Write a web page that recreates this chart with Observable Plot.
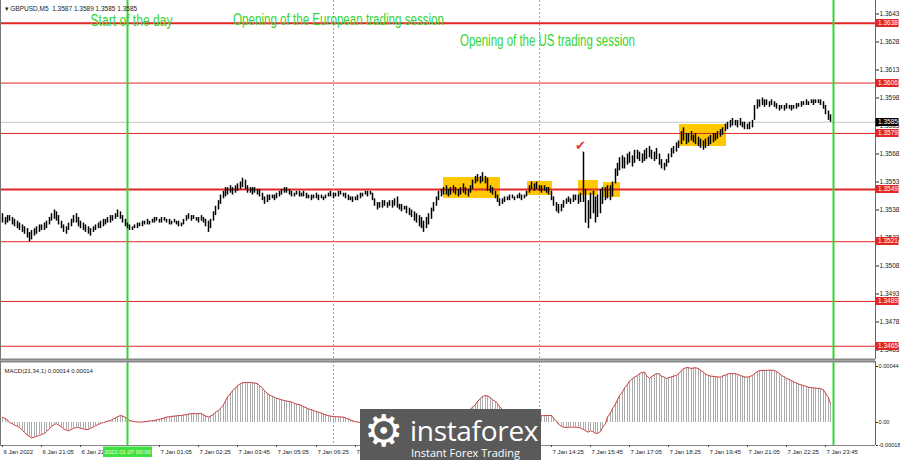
<!DOCTYPE html>
<html><head><meta charset="utf-8">
<script src="https://cdn.jsdelivr.net/npm/d3@7"></script>
<script src="https://cdn.jsdelivr.net/npm/@observablehq/plot@0.6"></script>
<style>
body{margin:0;background:#fff;}
#wrap{position:relative;width:900px;height:460px;overflow:hidden;font-family:"Liberation Sans",Arial,sans-serif;}
#wrap svg{display:block;}
.logo{position:absolute;left:360px;top:409px;width:181px;height:51px;background:#5a5a5a;color:#fff;overflow:hidden;}
.logo .gear{position:absolute;left:4px;top:-4px;font-size:44px;line-height:52px;font-family:"DejaVu Sans",sans-serif;}
.logo .brand{position:absolute;left:50px;top:2px;font-size:28px;font-family:"Open Sans",sans-serif;letter-spacing:-0.3px;}
.logo .tag{position:absolute;left:51px;top:36px;font-size:11px;font-family:"Open Sans",sans-serif;}
</style></head><body><div id="wrap"></div>
<script>
// ---- data (M5 bars, index 0 = 7 Jan 2022 00:00) ----
const firstBar = -51;
const priceBase = 1.35;           // bar values are pips above this
const pip = 0.0001;
const headerText = "\u25BE GBPUSD,M5  1.3587 1.3589 1.3585 1.3585";
const macdTitle = "MACD(21,34,1) 0.00014 0.00014";
// [low, high] in pips above priceBase
const bars = [
[31,36],[30,34],[31,35],[32,35],[30,34],[29,33],[28,32],[27,31],[26,30],[25,29],
[23,28],[21,26],[22,27],[24,28],[25,29],[26,30],[27,30],[27,31],[28,32],[30,34],
[32,36],[33,38],[32,37],[30,35],[28,32],[26,30],[25,29],[27,31],[29,33],[31,35],
[31,36],[29,34],[28,32],[27,31],[26,30],[25,29],[24,28],[26,29],[27,30],[28,31],
[28,32],[29,33],[30,33],[31,34],[31,35],[32,35],[33,36],[34,38],[33,37],[31,35],
[29,33],[28,31],[27,30],[27,29],[28,30],[28,31],[29,31],[29,32],[30,32],[30,33],
[30,32],[31,33],[31,34],[32,34],[31,33],[31,34],[32,34],[31,33],[30,33],[30,32],
[31,33],[30,32],[29,32],[29,31],[30,33],[32,35],[33,36],[32,35],[33,35],[32,34],
[31,34],[32,35],[31,34],[29,33],[26,32],[28,33],[32,37],[35,40],[38,43],[41,46],
[44,48],[45,50],[46,50],[47,51],[46,50],[47,51],[48,52],[49,53],[50,55],[49,54],
[47,51],[47,50],[46,50],[47,50],[46,49],[45,49],[43,47],[41,45],[42,46],[43,46],
[44,46],[43,46],[44,47],[45,48],[46,49],[47,50],[47,50],[46,49],[45,48],[45,47],
[46,48],[45,48],[45,47],[45,48],[44,47],[44,46],[43,46],[44,46],[44,47],[43,46],
[44,46],[43,45],[44,46],[45,47],[45,48],[44,47],[45,47],[45,48],[46,48],[45,47],
[44,47],[43,46],[43,45],[42,45],[43,45],[43,46],[44,47],[45,47],[46,48],[45,48],
[46,48],[43,47],[40,44],[38,42],[39,42],[39,43],[40,43],[39,42],[40,43],[39,43],
[40,44],[39,45],[38,41],[37,41],[38,40],[36,40],[35,39],[34,38],[32,37],[31,36],
[29,35],[28,34],[26,32],[28,34],[30,36],[33,39],[37,42],[40,45],[43,48],[45,49],
[46,50],[46,51],[45,49],[46,50],[47,51],[46,50],[45,49],[46,50],[47,52],[46,50],
[45,49],[47,51],[49,54],[52,56],[53,57],[52,56],[53,58],[52,56],[48,55],[47,51],
[46,50],[44,48],[42,46],[40,44],[41,44],[42,45],[43,45],[43,46],[44,46],[43,45],
[44,46],[44,47],[43,46],[44,46],[45,48],[47,51],[49,53],[48,52],[49,53],[48,51],
[47,51],[48,51],[47,50],[46,50],[43,48],[40,45],[37,42],[36,41],[37,41],[39,43],
[41,44],[42,45],[41,44],[42,46],[43,46],[41,46],[42,47],[42,69],[31,49],[28,43],
[33,47],[36,48],[31,45],[34,46],[36,49],[41,50],[43,50],[44,51],[43,51],[45,53],
[52,60],[56,63],[59,66],[60,67],[60,66],[62,68],[63,69],[61,67],[63,70],[65,70],
[64,69],[63,68],[64,70],[65,71],[66,72],[65,70],[64,69],[65,71],[62,68],[60,65],
[59,63],[61,65],[63,68],[66,71],[68,72],[69,74],[71,75],[73,80],[75,82],[73,79],
[74,79],[75,80],[74,78],[73,79],[72,77],[71,76],[70,75],[71,76],[72,77],[73,78],
[74,79],[75,79],[76,80],[77,81],[78,82],[80,84],[81,85],[82,86],[83,87],[83,86],
[82,86],[83,87],[82,85],[81,85],[81,84],[81,85],[82,86],[86,94],[92,97],[93,97],
[94,98],[93,97],[94,97],[93,96],[94,97],[93,96],[92,95],[91,94],[92,94],[91,94],
[92,95],[92,94],[91,94],[92,94],[92,95],[93,95],[93,96],[94,96],[94,97],[94,96],
[95,97],[94,97],[95,97],[95,97],[94,97],[92,96],[89,94],[86,91],[85,89]
];
// MACD(21,34,1) main = signal, in units of 0.00001
const macd = [
4,3,2,0,-1,-2,-3,-4,-6,-8,
-10,-11,-12,-11.5,-11,-10,-9.5,-8.6,-7,-5,
-3,-1.5,-1,-2,-3.5,-5,-6,-6.5,-5.5,-4.5,
-4,-4,-4.5,-5,-5.5,-5.5,-4.5,-3.5,-2.5,-1.5,
-0.8,0,0.5,1,1.6,2.5,3.5,4.5,5.5,5,
4,3,1.6,1,0.6,0.4,0.3,0.4,0.6,0.9,
1.2,1.4,1.6,2,2.5,3,3.6,4.2,4.5,4.8,
5,5.2,5.4,5.5,5.8,6.2,6.6,7,7,6.8,
7,7,6,5,4.2,5,6.5,8,9.5,11,
14,17,20,22.8,25,27,29,30.5,31.2,31.4,
31.5,31.5,31.2,31,30.6,29,27,25,22.8,21.5,
20.5,19.8,19,18.3,17.8,17.3,16.8,16.5,16,15,
14.5,14,13.4,12.5,11.5,10.6,10,9.4,8.6,8,
7.2,6.6,6,5.4,5,4.7,4.6,4.5,4.3,4.2,
3.5,2.8,2,1.3,0.6,0.3,0,-0.3,-0.4,-0.3,
0,0.2,0,-0.3,-0.2,0,0.3,0.5,0.6,0.8,
1,1.3,1.5,1.4,1.2,1.2,1.5,2,2.5,2.8,
3,3.1,3,2.8,2.9,3.2,3.6,4,4.4,4.8,
5,5.2,5.4,5.5,5.8,6.3,7,7.8,8.5,9,
9.4,10.5,12,14,16.5,19,20.5,21.2,20.8,19.5,
18,16.5,15,12.5,10,7.5,5.5,4.8,4.5,4.4,
4.3,4.2,4.2,4.2,4.2,4.2,4.5,4.8,5,5.2,
5.3,5.4,5.5,5.5,5.5,3.5,1,-1.5,-3,-3.7,
-3.9,-3.8,-3.7,-3.6,-3.8,-3.7,-4.5,-5.5,-6.5,-7.6,
-6.5,-7.5,-8.5,-8.6,-7,-4,-1,4.2,7.5,11,
14.5,18,21.2,24,27,30,32.5,34.5,35.6,37,
38.5,39.3,39.5,37,34.6,36,37.5,38.5,38,36.5,
35.5,34.6,35.2,35.8,36.5,37,38.5,40.5,42.2,43.2,
43,42.5,42.8,43,42.4,41,39.5,38,37,36.5,
36.2,36,35.8,35.6,36.5,37.3,38,38.5,38.5,38.3,
37.8,37,36.3,35.8,35.6,36,37,38.5,40,40.8,
41,40.9,41,41.2,41,40.9,40,38.5,37,35.8,
34.6,33.8,33,32,31,30.2,29.5,29,28.3,27.7,
27.4,27.2,27,26.8,26.7,25.5,23,19.5,15
];
const levelsThick = [1.3638, 1.3549];
const levelsThin = [1.3606, 1.3579, 1.3521, 1.3489, 1.3465];
const bidPrice = 1.3585;
const priceTicks = [1.3643,1.3628,1.3613,1.3598,1.3583,1.3568,1.3553,1.3538,1.3523,1.3508,1.3493,1.3478,1.3463];
const macdTicks = [44, 0, -18];
// trading zones: [first bar, last bar, low pips, high pips]
const zones = [[129,152.2,44.2,55.4],[163.3,173.5,45.8,53.3],[184,192.2,45.8,53.8],[194.3,201.2,44.7,52.7],[225.3,244.5,72,83.8]];
const dayStart = [0, 288];
const sessionOpen = [84, 168];
const sessionText = ["Start of the day", "Opening of the European trading session", "Opening of the US trading session"];
const checkMark = {i: 185, p: 72.5};
// time-axis labels that are not hidden under the watermark
const timeTicks = [[-51,"6 Jan 2022"],[-35,"6 Jan 21:05"],[-19,"6 Jan 22:25"],[13,"7 Jan 01:05"],[29,"7 Jan 02:25"],[45,"7 Jan 03:45"],[61,"7 Jan 05:05"],[77,"7 Jan 06:25"],[93,"7 Jan 07:45"],[173,"7 Jan 14:25"],[189,"7 Jan 15:45"],[205,"7 Jan 17:05"],[221,"7 Jan 18:25"],[237,"7 Jan 19:45"],[253,"7 Jan 21:05"],[269,"7 Jan 22:25"],[285,"7 Jan 23:45"]];
const dayLabel = "2022.01.07 00:00";

// ---- build ----
const px = p => priceBase + p * pip;
const barData = bars.map((d, k) => ({i: firstBar + k, lo: px(d[0]), hi: px(d[1])}));
const macdData = macd.map((v, k) => ({i: firstBar + k, v}));
const xDomain = [-51.84, 305.3];
const yDomain = [1.345791, 1.365023];
const mDomain = [-18.07, 47.93];
const FONT = "Liberation Sans, Arial, sans-serif";
const NARROW = "'Liberation Sans Narrow', 'Arial Narrow', 'Liberation Sans', sans-serif";
const GREEN = "#36d536";
const RED = "#e32626";

const main = Plot.plot({
  width: 900, height: 359, marginLeft: 0, marginRight: 25, marginTop: 0, marginBottom: 0,
  x: {domain: xDomain, round: true, axis: null},
  y: {domain: yDomain},
  style: {fontFamily: FONT, background: "#fff", overflow: "visible"},
  marks: [
    Plot.rect(zones, {x1: d => d[0], x2: d => d[1], y1: d => px(d[2]), y2: d => px(d[3]), fill: "#ffc800"}),
    Plot.ruleY([bidPrice], {stroke: "#c4c4c4"}),
    Plot.ruleY(levelsThin, {stroke: RED, strokeWidth: 1}),
    Plot.ruleY(levelsThick, {stroke: RED, strokeWidth: 2}),
    Plot.ruleX(sessionOpen, {stroke: "#5cd65c", strokeDasharray: "2,2"}),
    Plot.ruleX(dayStart, {stroke: GREEN, strokeWidth: 2}),
    Plot.ruleX(barData, {x: "i", y1: "lo", y2: "hi", stroke: "#000", strokeWidth: 1.5}),
    Plot.text([checkMark], {x: "i", y: d => px(d.p), text: () => "\u2714", fill: "#e33a3a", fontSize: 13, fontFamily: "DejaVu Sans"}),
    Plot.text([sessionText[0]], {x: () => dayStart[0], frameAnchor: "top", dy: 14, dx: 4, text: d => d, fill: GREEN, fontSize: 16, fontFamily: NARROW}),
    Plot.text([sessionText[1]], {x: () => sessionOpen[0], frameAnchor: "top", dy: 13, dx: 5, text: d => d, fill: GREEN, fontSize: 16, fontFamily: NARROW}),
    Plot.text([sessionText[2]], {x: () => sessionOpen[1], frameAnchor: "top", dy: 34, dx: 8, text: d => d, fill: GREEN, fontSize: 16, fontFamily: NARROW}),
    Plot.text([headerText], {frameAnchor: "top-left", dx: 4, dy: 6, text: d => d, textAnchor: "start", fontSize: 6.5, fill: "#222"}),
    Plot.ruleX([xDomain[0]], {stroke: "#777"}),
    Plot.ruleY([yDomain[0]], {stroke: "#888", strokeWidth: 2}),
    Plot.axisY({ticks: priceTicks, anchor: "right", tickSize: 3, tickPadding: 1, tickFormat: d => d.toFixed(4), fontSize: 6.5, label: null, color: "#222"}),
    Plot.ruleX([xDomain[1]], {stroke: "#666"})
  ]
});

const sub = Plot.plot({
  width: 900, height: 101, marginLeft: 0, marginRight: 25, marginTop: 2, marginBottom: 15,
  x: {domain: xDomain, round: true},
  y: {domain: mDomain},
  style: {fontFamily: FONT, background: "#fff", overflow: "visible"},
  marks: [
    Plot.ruleX(macdData, {x: "i", y1: 0, y2: "v", stroke: "#ababab"}),
    Plot.line(macdData, {x: "i", y: "v", stroke: "#cc4040", strokeWidth: 1}),
    Plot.ruleX(sessionOpen, {stroke: "#5cd65c", strokeDasharray: "2,2"}),
    Plot.ruleX(dayStart, {stroke: GREEN, strokeWidth: 2}),
    Plot.text([macdTitle], {frameAnchor: "top-left", dx: 4, dy: 7, text: d => d, textAnchor: "start", fontSize: 6, fill: "#222"}),
    Plot.ruleY([mDomain[1]], {stroke: "#888", strokeWidth: 2}),
    Plot.ruleX([xDomain[0]], {stroke: "#777"}),
    Plot.ruleY([mDomain[0]], {stroke: "#888"}),
    Plot.axisY({ticks: macdTicks, anchor: "right", tickSize: 2, tickPadding: 1, tickFormat: d => d === 0 ? "0.00" : (d / 1e5).toFixed(5), fontSize: 5.6, label: null, color: "#222"}),
    Plot.axisX({ticks: timeTicks.map(t => t[0]), tickSize: 2, tickFormat: () => "", label: null, color: "#444"}),
    Plot.text(timeTicks, {x: d => d[0], text: d => d[1], frameAnchor: "bottom", dy: 8, dx: 1, textAnchor: "start", fontSize: 6, fill: "#222"}),
    Plot.ruleX([xDomain[1]], {stroke: "#666"})
  ]
});

// condense the session captions to the reference's narrow type
const captionWidths = [82, 211, 175];
d3.select(main).selectAll("text").each(function () {
  const k = sessionText.indexOf(this.textContent);
  if (k >= 0) d3.select(this).attr("textLength", captionWidths[k]).attr("lengthAdjust", "spacingAndGlyphs");
});

// price tags on the right axis
const ys = main.scale("y"), xs = main.scale("x");
const xr = xs.apply(xDomain[1]);
const tg = d3.select(main).append("g").attr("font-size", 6.5).attr("font-family", FONT).attr("text-anchor", "start");
const tags = [...levelsThick, ...levelsThin].map(v => ({v, fill: RED})).concat([{v: bidPrice, fill: "#000"}]);
for (const t of tags) {
  const y = Math.round(ys.apply(t.v));
  tg.append("rect").attr("x", xr + 0.5).attr("y", y - 4).attr("width", 23).attr("height", 8).attr("fill", t.fill);
  tg.append("text").attr("x", xr + 3).attr("y", y).attr("dy", "0.34em").attr("fill", "#fff").text(t.v.toFixed(4));
}
// highlighted day label on the time axis
const sx = sub.scale("x");
const dg = d3.select(sub).append("g");
const cx = sx.apply(dayStart[0]);
dg.append("rect").attr("x", cx - 24).attr("y", 87.5).attr("width", 49).attr("height", 10.5).attr("fill", "#3ee03e");
dg.append("text").attr("x", cx + 0.5).attr("y", 93).attr("dy", "0.34em").attr("text-anchor", "middle")
  .attr("font-size", 6).attr("font-family", FONT).attr("fill", "#eaffea").text(dayLabel);

const wrap = document.getElementById("wrap");
wrap.append(main, sub);
const logo = document.createElement("div");
logo.className = "logo";
logo.innerHTML = '<span class="gear">\u2699</span><span class="brand">instaforex</span><span class="tag">Instant Forex Trading</span>';
wrap.append(logo);
</script></body></html>
